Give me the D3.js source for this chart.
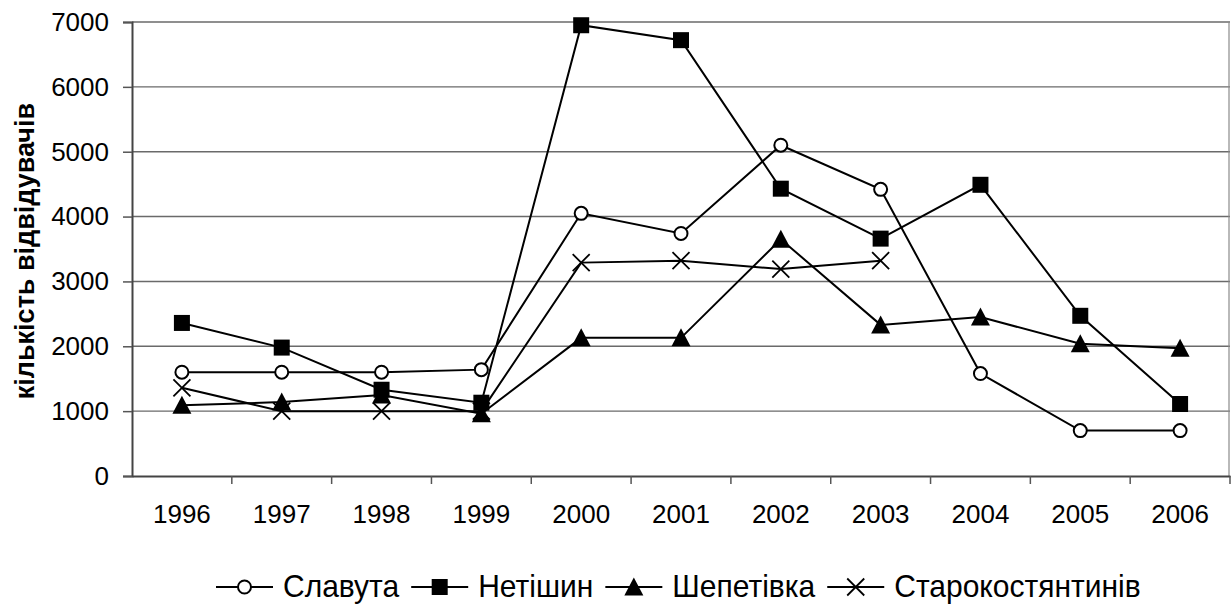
<!DOCTYPE html>
<html>
<head>
<meta charset="utf-8">
<script src="https://cdn.jsdelivr.net/npm/d3@7"></script>
<style>
  body { margin: 0; background: #fff; }
  svg { display: block; font-family: Arial, "Liberation Sans", sans-serif; }
</style>
</head>
<body>
<svg id="chart" width="1231" height="606"></svg>
<script>
// years and visitor counts
const years = ['1996', '1997', '1998', '1999', '2000', '2001', '2002', '2003', '2004', '2005', '2006'];
const slavuta = [1600, 1600, 1600, 1640, 4050, 3740, 5100, 4420, 1580, 700, 700];
const netishyn = [2360, 1980, 1330, 1130, 6950, 6720, 4430, 3660, 4490, 2470, 1110];
const shepetivka = [1090, 1140, 1250, 960, 2130, 2130, 3650, 2330, 2450, 2040, 1970];
const starokost = [1360, 1000, 1000, 1000, 3290, 3320, 3190, 3320, null, null, null];
const yTicks = [0, 1000, 2000, 3000, 4000, 5000, 6000, 7000];
const yTitle = 'кількість відвідувачів';

const series = [
    {name: 'Славута', values: slavuta, marker: 'circle'},
    {name: 'Нетішин', values: netishyn, marker: 'square'},
    {name: 'Шепетівка', values: shepetivka, marker: 'triangle'},
    {name: 'Старокостянтинів', values: starokost, marker: 'cross'}
];

const svg = d3.select('#chart');
const margin = {top: 22, right: 1, bottom: 130, left: 132};
const width = +svg.attr('width') - margin.left - margin.right;
const height = +svg.attr('height') - margin.top - margin.bottom;

const x = d3.scaleBand().domain(years).range([margin.left, margin.left + width]).padding(0);
const y = d3.scaleLinear().domain([0, 7000]).range([margin.top + height, margin.top]);

// gridlines
svg.append('g')
    .selectAll('line')
    .data(yTicks.filter(d => d > 0))
    .enter().append('line')
        .attr('x1', margin.left)
        .attr('x2', margin.left + width)
        .attr('y1', d => y(d))
        .attr('y2', d => y(d))
        .attr('stroke', '#6a6a6a')
        .attr('stroke-width', 1.4);

// right border of the plot area
svg.append('line')
    .attr('x1', margin.left + width - 1).attr('x2', margin.left + width - 1)
    .attr('y1', margin.top).attr('y2', margin.top + height)
    .attr('stroke', '#8a8a8a').attr('stroke-width', 1.2);

// y axis
const yAxis = svg.append('g')
    .attr('transform', 'translate(' + margin.left + ',0)')
    .call(d3.axisLeft(y).tickValues(yTicks).tickSize(9).tickPadding(14).tickFormat(d3.format('d')));
yAxis.selectAll('text').attr('font-size', 26).attr('fill', '#000').attr('font-family', 'Arial, "Liberation Sans", sans-serif');

// x axis, ticks between categories
const xAxis = svg.append('g')
    .attr('transform', 'translate(0,' + (margin.top + height) + ')')
    .call(d3.axisBottom(x).tickSize(0).tickPadding(29));
xAxis.selectAll('text').attr('font-size', 26).attr('fill', '#000').attr('font-family', 'Arial, "Liberation Sans", sans-serif');
xAxis.selectAll('.bound')
    .data(years)
    .enter().append('line')
        .attr('class', 'bound')
        .attr('x1', d => x(d) + x.bandwidth())
        .attr('x2', d => x(d) + x.bandwidth())
        .attr('y1', 0).attr('y2', 8)
        .attr('stroke', '#555').attr('stroke-width', 1.5);

svg.selectAll('.domain').attr('stroke', '#444').attr('stroke-width', 2);
svg.selectAll('.tick line').attr('stroke', '#555').attr('stroke-width', 1.5);

// y title
svg.append('text')
    .attr('transform', 'translate(34,' + (margin.top + height / 2 + 2) + ') rotate(-90)')
    .attr('text-anchor', 'middle')
    .attr('font-size', 27)
    .attr('font-weight', 'bold')
    .text(yTitle);

function drawMarker(sel, type) {
    if (type === 'circle') {
        sel.append('circle').attr('r', 6.5).attr('fill', '#fff').attr('stroke', '#000').attr('stroke-width', 2);
    } else if (type === 'square') {
        sel.append('rect').attr('x', -8).attr('y', -8).attr('width', 16).attr('height', 16).attr('fill', '#000');
    } else if (type === 'triangle') {
        sel.append('path').attr('d', 'M0,-9.5L9.5,8.5L-9.5,8.5Z').attr('fill', '#000');
    } else {
        sel.append('path').attr('d', 'M-8.5,-8.5L8.5,8.5M-8.5,8.5L8.5,-8.5').attr('stroke', '#000').attr('stroke-width', 1.8);
    }
}

const line = d3.line()
    .defined(d => d.v !== null)
    .x(d => x(d.year) + x.bandwidth() / 2)
    .y(d => y(d.v));

series.forEach(function(s) {
    const pts = years.map((yr, i) => ({year: yr, v: s.values[i]}));
    svg.append('path')
        .datum(pts)
        .attr('d', line)
        .attr('fill', 'none')
        .attr('stroke', '#000')
        .attr('stroke-width', 2);
    const m = svg.append('g').selectAll('g')
        .data(pts.filter(d => d.v !== null))
        .enter().append('g')
            .attr('transform', d => 'translate(' + (x(d.year) + x.bandwidth() / 2) + ',' + y(d.v) + ')');
    drawMarker(m, s.marker);
});

// legend
const legendY = 587;
const lineLen = 57;
const legend = svg.append('g').attr('transform', 'translate(216,0)');
let cx = 0;
series.forEach(function(s) {
    const item = legend.append('g').attr('transform', 'translate(' + cx + ',0)');
    item.append('line').attr('x1', 0).attr('x2', lineLen).attr('y1', legendY).attr('y2', legendY)
        .attr('stroke', '#000').attr('stroke-width', 2);
    drawMarker(item.append('g').attr('transform', 'translate(' + (lineLen / 2) + ',' + legendY + ')'), s.marker);
    const t = item.append('text')
        .attr('transform', 'translate(' + (lineLen + 10) + ',' + (legendY + 10) + ') scale(1,1.06)')
        .attr('font-size', 30)
        .text(s.name);
    cx += lineLen + 10 + t.node().getComputedTextLength() + 12;
});
</script>
</body>
</html>
